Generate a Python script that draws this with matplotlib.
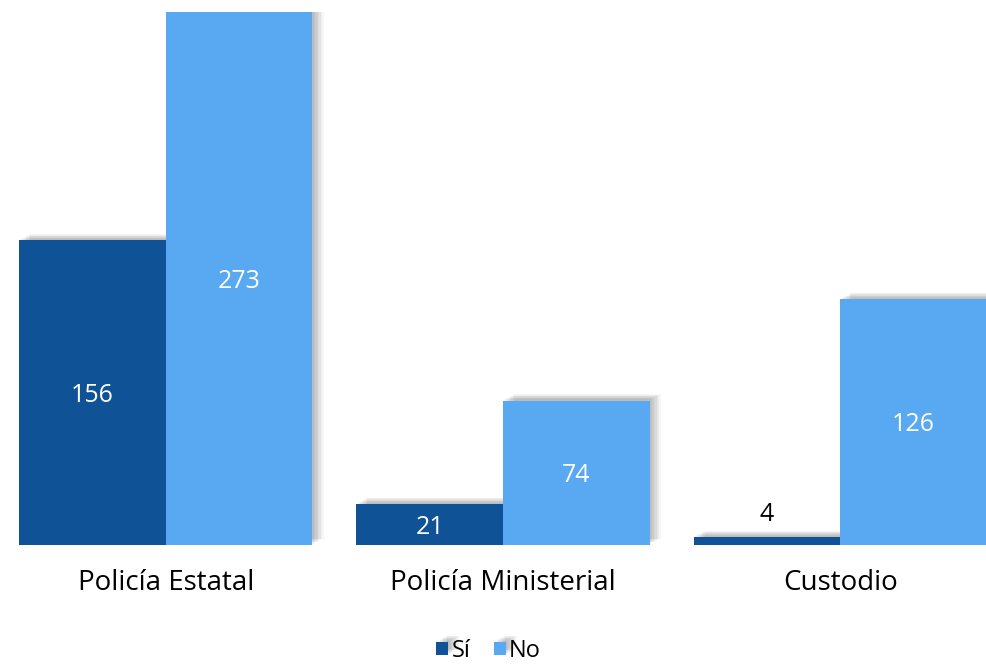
import numpy as np
import matplotlib
matplotlib.use("Agg")
import matplotlib.pyplot as plt
import matplotlib.patheffects as pe

categories = ["Policía Estatal", "Policía Ministerial", "Custodio"]
si_values = [156, 21, 4]
no_values = [273, 74, 126]
series_names = ["Sí", "No"]

SI_COLOR = "#0F5396"
NO_COLOR = "#58A9F1"

plt.rcParams["font.family"] = ["Open Sans", "DejaVu Sans"]

fig = plt.figure(figsize=(9.87, 6.64), dpi=100)
ax = fig.add_axes([19 / 987, 119 / 664, 1 - 19 / 987, (545 - 12) / 664])

x = np.arange(len(categories))
width = 0.435

# soft shadow: stacked translucent copies offset right/up
shadow = [pe.SimplePatchShadow(offset=(dx, dy), shadow_rgbFace="#000000", alpha=0.035)
          for dx, dy in [(1, 1), (2, 1.5), (3, 2), (4, 2.5), (5, 3), (6, 3.5), (7, 4), (8, 4.5)]]
shadow.append(pe.Normal())

bars_si = ax.bar(x - width / 2, si_values, width, color=SI_COLOR, label=series_names[0],
                 path_effects=shadow)
bars_no = ax.bar(x + width / 2, no_values, width, color=NO_COLOR, label=series_names[1],
                 path_effects=shadow)

for bars in (bars_si, bars_no):
    for b in bars:
        h = b.get_height()
        cx = b.get_x() + b.get_width() / 2
        if h < 15:
            ax.text(cx, h + 5, f"{h:g}", ha="center", va="bottom", color="black", fontsize=18)
        else:
            ax.annotate(f"{h:g}", (cx, h / 2), xytext=(0, -2), textcoords="offset points",
                        ha="center", va="center", color="white", fontsize=18)

ax.set_xlim(-width, len(categories) - 1 + width)
ax.set_ylim(0, 273)
ax.set_xticks(x)
ax.set_xticklabels(categories, fontsize=20)
ax.tick_params(axis="x", length=0, pad=17)
ax.set_yticks([])
for s in ax.spines.values():
    s.set_visible(False)

fig.legend(handles=[bars_si, bars_no], labels=series_names, loc="center",
           bbox_to_anchor=(0.495, 1 - 651 / 664), ncol=2, frameon=False, fontsize=17,
           handlelength=0.5, handleheight=0.5, handletextpad=0.15, columnspacing=1.0)

fig.savefig("out.png", dpi=100)
